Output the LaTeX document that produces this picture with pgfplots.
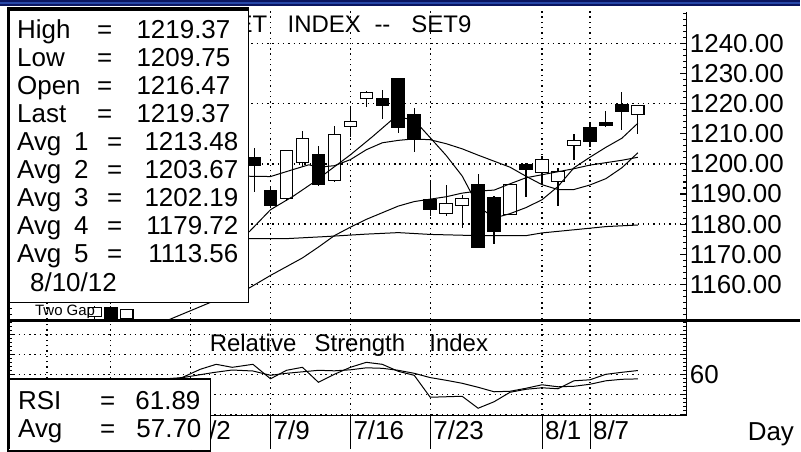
\documentclass[border=0pt]{standalone}
\usepackage{pgfplots}
\pgfplotsset{compat=1.18}
\usepackage{pgfplotstable}
\usepackage{fontspec}
\setmainfont{Liberation Sans}
\newcommand\cf{\fontsize{26}{30}\selectfont}
\newcommand\tf{\fontsize{24}{28}\selectfont}
\newcommand\smf{\fontsize{15}{18}\selectfont}
\definecolor{navy}{HTML}{0A1560}
\definecolor{bandblue}{HTML}{2848A8}

\pgfplotstableread{
c o h l cl
-9 1149.5 1153.0 1146.0 1152.3
-8 1152.2 1153.0 1146.0 1148.6
-7 1148.6 1152.0 1146.0 1151.6
1 1202.0 1205.4 1190.8 1199.4
2 1191.1 1192.5 1185.5 1186.2
3 1188.4 1204.5 1187.6 1204.5
4 1200.5 1210.8 1199.0 1208.3
5 1203.0 1205.8 1192.5 1193.1
6 1194.5 1212.6 1194.0 1209.7
7 1212.4 1219.0 1208.9 1214.0
8 1221.8 1224.3 1219.0 1223.8
9 1221.8 1224.6 1214.9 1219.4
10 1228.4 1228.4 1210.2 1212.2
11 1216.3 1218.5 1204.1 1208.2
12 1188.1 1194.2 1182.8 1184.8
13 1183.5 1193.1 1182.8 1187.0
14 1186.3 1189.8 1178.8 1188.4
15 1193.3 1196.6 1172.4 1172.4
16 1188.7 1189.2 1173.5 1177.5
17 1183.2 1193.1 1183.0 1193.1
18 1199.7 1200.3 1189.0 1198.3
19 1197.0 1202.5 1193.1 1201.4
20 1194.2 1198.6 1185.9 1197.5
21 1206.2 1210.0 1201.4 1207.8
22 1211.9 1213.8 1205.6 1207.5
23 1213.8 1217.4 1212.4 1212.7
24 1219.8 1223.8 1211.3 1217.4
25 1216.47 1219.37 1209.75 1219.37
}\candles

\pgfplotstableread{
c v
0 1175.5
0.69 1177.6
2 1184.8
3.4 1189.2
4.65 1193.7
7 1203.0
8.4 1209.1
9.6 1214.6
10 1215.6
11 1214.5
12 1208.7
13 1202.8
14 1196.0
15 1186.0
16 1182.0
17 1183.5
18 1185.5
19 1188.1
20 1192.5
21 1198.7
22 1202.2
23 1205.5
24 1208.5
25 1213.48
}\avgone

\pgfplotstableread{
c v
0 1196.0
0.69 1195.9
2 1195.8
3.4 1198.1
4.4 1199.7
5 1198.9
6 1199.4
7 1201.4
8 1204.7
9 1207.0
10 1207.8
11 1208.3
12 1208.0
13 1206.7
14 1205.0
15 1202.9
16 1200.9
17 1198.9
18 1195.9
19 1193.1
20 1191.5
21 1191.5
22 1193.0
23 1195.1
24 1198.7
25 1203.67
}\avgtwo

\pgfplotstableread{
c v
-4.5 1148.0
-1.6 1154.4
0.69 1158.9
2 1163.0
4 1168.8
5 1172.4
6 1176.2
7 1179.0
8 1181.6
9 1183.8
10 1186.0
11 1187.5
12 1188.3
13 1189.1
14 1190.3
15 1191.0
16 1191.3
17 1193.4
18 1195.4
19 1196.4
20 1197.4
21 1198.4
22 1199.6
23 1200.4
24 1201.2
25 1202.19
}\avgthree

\pgfplotstableread{
c v
0 1175.2
3 1175.2
5.5 1175.9
8 1176.7
10 1177.2
12 1176.6
15 1176.2
18 1176.2
19 1177.1
21.5 1178.4
23 1179.2
25 1179.72
}\avgfour

\pgfplotstableread{
c v
-5 55.5
-3.5 58.5
-2.4 62.5
-1.4 65.0
-0.4 63.5
0.9 65.0
2 57.75
3 62.0
4 63.5
5 56.0
6 60.0
7 63.5
8 66.0
9 65.0
10 61.5
11 59.5
12 48.5
13 48.75
14 49.0
15 43.0
16 46.25
17 51.0
18 52.5
19 53.25
20 52.75
21 56.75
22 57.25
23 60.0
24 61.0
25 61.89
}\rsi

\pgfplotstableread{
c v
-5 57.5
-3.5 58.35
-1.6 60.85
-0.4 62.15
0.9 61.65
2 59.5
3 60.5
4 61.25
5 62.0
6 61.75
7 62.25
8 63.25
9 63.0
10 62.0
11 60.5
12 58.35
13 57.0
14 55.5
15 53.5
16 51.25
17 51.5
18 53.0
19 54.75
20 53.75
21 54.0
22 55.0
23 56.75
24 57.5
25 57.7
}\rsiavg

\pgfplotsset{
  mainpos/.style={at={(8pt,130pt)}, anchor=south west, scale only axis,
    width=680pt, height=312pt, xmin=-14.4375, xmax=28.0625,
    ymin=1148.41, ymax=1251.72},
  rsipos/.style={at={(8pt,34pt)}, anchor=south west, scale only axis,
    width=680pt, height=93pt, xmin=-14.4375, xmax=28.0625,
    ymin=39.5, ymax=86},
  common/.style={axis line style={draw=none}, tick align=inside,
    ytick pos=both, yticklabel pos=right,
    xtick={-12,-8,-3,2,7,12,19,22}, xticklabels={}, xmajorgrids,
    major tick length=7pt, minor tick length=4pt,
    tick style={black, line width=1.1pt},
    xtick style={draw=none},
    major grid style={black, line width=1.4pt, dash pattern=on 1.4pt off 3.9pt},
    scaled y ticks=false,
    yticklabel style={font=\cf, anchor=west, inner sep=0pt, xshift=3pt,
      /pgf/number format/.cd, fixed, fixed zerofill, precision=2,
      1000 sep={}, assume math mode=true}},
}

\begin{document}
\begin{tikzpicture}
\begin{scope}[x=1pt,y=1pt]
\useasboundingbox (0,0) rectangle (801,450);
\fill[white] (0,0) rectangle (801,450);
\fill[navy] (0,443.5) rectangle (801,450);
\fill[bandblue] (0,446) rectangle (801,447.6);
\end{scope}

% main panel: grid, ticks, wicks
\begin{axis}[mainpos, common,
  ytick={1160,1170,...,1240},
  minor ytick={1150,1152,...,1250},
  extra y ticks={1160,1180,...,1240}, extra y tick labels={},
  extra y tick style={grid=major}]
\addplot[draw=none, mark=none, error bars/.cd, y dir=both, y explicit,
  error mark=none, error bar style={draw=black, solid, line width=1.2pt}]
  table[x=c, y=cl, y error plus expr={\thisrow{h}-\thisrow{cl}},
        y error minus expr={\thisrow{cl}-\thisrow{l}}] {\candles};
\end{axis}

% candle bodies
\begin{axis}[mainpos, hide axis, ybar stacked, bar width=0.78]
\addplot[draw=none, fill=none] table[x=c, y expr={min(\thisrow{o},\thisrow{cl})}] {\candles};
\addplot[draw=black, fill=black, line width=1.1pt] table[x=c, y expr={max(\thisrow{o}-\thisrow{cl},0)}] {\candles};
\addplot[draw=black, fill=white, line width=1.1pt] table[x=c, y expr={max(\thisrow{cl}-\thisrow{o},0)}] {\candles};
\end{axis}

% moving averages
\begin{axis}[mainpos, hide axis]
\addplot[black, line width=1pt, mark=none] table[x=c, y=v] {\avgfour};
\addplot[black, line width=1pt, mark=none] table[x=c, y=v] {\avgthree};
\addplot[black, line width=1pt, mark=none] table[x=c, y=v] {\avgtwo};
\addplot[black, line width=1pt, mark=none] table[x=c, y=v] {\avgone};
\end{axis}

% RSI panel
\begin{axis}[rsipos, common,
  ytick={60,80}, yticklabels={60,{}}, ymajorgrids,
  extra y ticks={40,50,70}, extra y tick labels={},
  minor ytick={40,42,...,86}]
\addplot[black, line width=1pt, mark=none] table[x=c, y=v] {\rsiavg};
\addplot[black, line width=1pt, mark=none] table[x=c, y=v] {\rsi};
\end{axis}

\begin{scope}[x=1pt,y=1pt]
% frame lines
\draw[line width=1.2pt] (688,130) -- (688,438);
\draw[line width=1.2pt] (688,34) -- (688,127);
\draw[line width=1.2pt] (8,34) -- (688,34);
\draw[line width=3pt] (8,128.5) -- (801,128.5);
\draw[line width=3pt] (8.5,0) -- (8.5,442);

% date strip
\foreach \xx in {191.7,271,351,431.7,543.3,591.7}
  \draw[line width=1.2pt] (\xx,0) -- (\xx,34);
\node[anchor=base west, inner sep=0pt] at (195,10) {\cf 7/2};
\node[anchor=base west, inner sep=0pt] at (274,10) {\cf 7/9};
\node[anchor=base west, inner sep=0pt] at (354,10) {\cf 7/16};
\node[anchor=base west, inner sep=0pt] at (434,10) {\cf 7/23};
\node[anchor=base west, inner sep=0pt] at (546,10) {\cf 8/1};
\node[anchor=base west, inner sep=0pt] at (594,10) {\cf 8/7};
\node[anchor=base west, inner sep=0pt] at (749,9) {\cf Day};

% titles
\node[anchor=base east, inner sep=0pt] at (268,417) {\tf SET};
\node[anchor=base west, inner sep=0pt] at (288,417) {\tf INDEX};
\node[anchor=base west, inner sep=0pt] at (375,417) {\tf {-}{-}};
\node[anchor=base west, inner sep=0pt] at (412,417) {\tf SET9};
\node[anchor=base west, inner sep=0pt] at (210,98) {\tf Relative};
\node[anchor=base west, inner sep=0pt] at (315,98) {\tf Strength};
\node[anchor=base west, inner sep=0pt] at (430,98) {\tf Index};
\node[anchor=base west, inner sep=0pt] at (35,134) {\smf Two Gap};

% main info box
\fill[white] (8,147) rectangle (249,442);
\draw[line width=1.6pt] (8,147) rectangle (249,442);
\draw[line width=3.5pt] (8.75,147) -- (8.75,442);
\draw[line width=3pt] (8,440.5) -- (249,440.5);
\node[anchor=base west, inner sep=0pt] at (17,411) {\cf High};
\node[anchor=base west, inner sep=0pt] at (97,411) {\cf =};
\node[anchor=base east, inner sep=0pt] at (231,411) {\cf 1219.37};
\node[anchor=base west, inner sep=0pt] at (17,383) {\cf Low};
\node[anchor=base west, inner sep=0pt] at (97,383) {\cf =};
\node[anchor=base east, inner sep=0pt] at (231,383) {\cf 1209.75};
\node[anchor=base west, inner sep=0pt] at (17,355) {\cf Open};
\node[anchor=base west, inner sep=0pt] at (97,355) {\cf =};
\node[anchor=base east, inner sep=0pt] at (231,355) {\cf 1216.47};
\node[anchor=base west, inner sep=0pt] at (17,327) {\cf Last};
\node[anchor=base west, inner sep=0pt] at (97,327) {\cf =};
\node[anchor=base east, inner sep=0pt] at (231,327) {\cf 1219.37};
\foreach \yy/\n/\val in {299/1/1213.48,271/2/1203.67,243/3/1202.19,215/4/1179.72,187/5/1113.56}{
  \node[anchor=base west, inner sep=0pt] at (17,\yy) {\cf Avg};
  \node[anchor=base west, inner sep=0pt] at (74,\yy) {\cf \n};
  \node[anchor=base west, inner sep=0pt] at (107,\yy) {\cf =};
  \node[anchor=base east, inner sep=0pt] at (239,\yy) {\cf \val};
}
\node[anchor=base west, inner sep=0pt] at (30,158) {\cf 8/10/12};

% RSI info box
\fill[white] (8,0) rectangle (211,70);
\draw[line width=1.6pt] (8,-2) rectangle (211,70);
\draw[line width=3pt] (8.5,0) -- (8.5,70);
\node[anchor=base west, inner sep=0pt] at (18,40) {\cf RSI};
\node[anchor=base west, inner sep=0pt] at (100,40) {\cf =};
\node[anchor=base east, inner sep=0pt] at (201,40) {\cf 61.89};
\node[anchor=base west, inner sep=0pt] at (18,12) {\cf Avg};
\node[anchor=base west, inner sep=0pt] at (100,12) {\cf =};
\node[anchor=base east, inner sep=0pt] at (202,12) {\cf 57.70};
\end{scope}
\end{tikzpicture}
\end{document}
